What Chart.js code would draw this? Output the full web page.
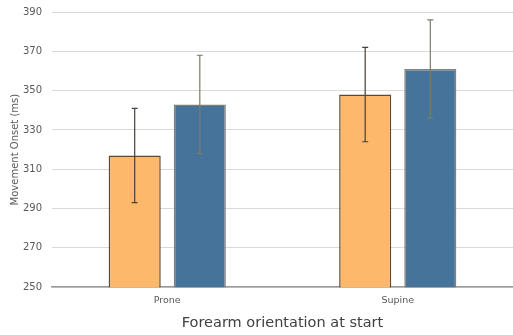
<!DOCTYPE html>
<html>
<head>
<meta charset="utf-8">
<script src="https://cdn.jsdelivr.net/npm/chart.js@4"></script>
<style>
  html, body { margin: 0; padding: 0; background: #fff; }
  #wrap { width: 513px; height: 335px; }
</style>
</head>
<body>
<div id="wrap"><canvas id="chart"></canvas></div>
<script>
const categories  = ['Prone', 'Supine'];
const seriesA     = [317, 348];   // orange
const seriesAErr  = [24, 24];
const seriesB     = [343, 361];   // blue
const seriesBErr  = [25, 25];
const yTicks      = [250, 270, 290, 310, 330, 350, 370, 390];

const FONT = "'DejaVu Sans', Verdana, sans-serif";

// draws symmetric error bars on top of the bars
const errorBars = {
  id: 'errorBars',
  afterDatasetsDraw(chart) {
    const c = chart.ctx;
    const y = chart.scales.y;
    chart.data.datasets.forEach((ds, di) => {
      const meta = chart.getDatasetMeta(di);
      meta.data.forEach((bar, i) => {
        const v = ds.data[i], e = ds.errors[i];
        const top = y.getPixelForValue(v + e);
        const bot = y.getPixelForValue(v - e);
        c.save();
        c.strokeStyle = ds.errColor;
        c.lineWidth = 1.2;
        c.beginPath();
        c.moveTo(bar.x, top); c.lineTo(bar.x, bot);
        c.moveTo(bar.x - 3, top); c.lineTo(bar.x + 3, top);
        c.moveTo(bar.x - 3, bot); c.lineTo(bar.x + 3, bot);
        c.stroke();
        c.restore();
      });
    });
  }
};

new Chart(document.getElementById('chart'), {
  type: 'bar',
  data: {
    labels: categories,
    datasets: [
      {
        data: seriesA, errors: seriesAErr, errColor: '#4a4035',
        backgroundColor: '#FDB86B', borderColor: '#5c4a36', borderWidth: 1.5
      },
      {
        data: seriesB, errors: seriesBErr, errColor: '#7a7a6a',
        backgroundColor: '#46739A', borderColor: '#808080', borderWidth: 1.5
      }
    ]
  },
  options: {
    responsive: true,
    maintainAspectRatio: false,
    animation: false,
    categoryPercentage: 0.565,
    barPercentage: 0.8,
    layout: { padding: { top: 12, right: 0, left: 0, bottom: 0 } },
    plugins: { legend: { display: false }, tooltip: { enabled: false } },
    scales: {
      x: {
        grid: { display: false },
        border: { color: '#9a9a9a', width: 1.5 },
        ticks: { color: '#595959', font: { family: FONT, size: 9.5 }, padding: 0 },
        title: { display: true, text: 'Forearm orientation at start', color: '#404040',
                 font: { family: FONT, size: 14.5 }, padding: { top: 8, bottom: 3 } }
      },
      y: {
        min: 250, max: 390,
        afterBuildTicks: (s) => { s.ticks = yTicks.map(v => ({ value: v })); },
        afterFit: (s) => { s.width = 52; s.paddingTop = 0; s.paddingBottom = 0; },
        grid: { color: '#d9d9d9', lineWidth: 1, drawTicks: false },
        border: { display: false },
        ticks: { color: '#595959', font: { family: FONT, size: 10 }, padding: 10 },
        title: { display: true, text: 'Movement Onset (ms)', color: '#595959',
                 font: { family: FONT, size: 10 }, padding: { top: 9, bottom: 0 } }
      }
    }
  },
  plugins: [errorBars]
});
</script>
</body>
</html>
